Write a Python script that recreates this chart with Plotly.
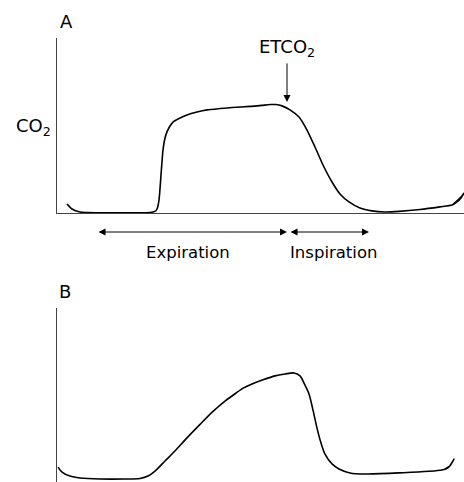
import plotly.graph_objects as go

# ---- data (time in s, CO2 in mmHg) ----
# Panel A: normal capnogram
t_a = [0.10, 0.15, 0.23, 0.43, 0.73, 0.93, 0.98, 1.00, 1.02, 1.04, 1.06, 1.08,
       1.10, 1.13, 1.16, 1.23, 1.30, 1.40, 1.50, 1.63, 1.75, 1.93, 2.05, 2.13,
       2.19, 2.25, 2.33, 2.42, 2.50, 2.58, 2.66, 2.75, 2.83, 2.92, 3.03, 3.15,
       3.28, 3.42, 3.63, 3.83, 3.95, 4.00, 4.04, 4.07, 4.04, 4.00, 3.96]
co2_a = [3.4, 1.5, 0.4, 0.1, 0.1, 0.2, 0.6, 1.5, 4.9, 14.3, 23.8, 28.3,
         30.6, 32.8, 34.3, 35.8, 37.0, 38.1, 38.9, 39.4, 39.8, 40.2, 40.6, 40.9,
         40.9, 40.4, 38.9, 36.2, 31.3, 24.9, 18.1, 11.7, 7.2, 4.2, 1.9, 0.8,
         0.4, 0.6, 1.3, 2.3, 3.0, 4.2, 5.7, 7.5, 6.0, 4.6, 3.3]

# Panel B: obstructive (shark-fin) capnogram
t_b = [0.01, 0.05, 0.13, 0.23, 0.43, 0.68, 0.83, 0.91, 0.98, 1.08, 1.16, 1.30,
       1.43, 1.56, 1.68, 1.75, 1.85, 1.95, 2.06, 2.18, 2.28, 2.37, 2.43, 2.47,
       2.52, 2.56, 2.60, 2.64, 2.68, 2.75, 2.82, 2.93, 3.08, 3.42, 3.85,
       3.91, 3.97, 3.93, 3.88]
co2_b = [4.5, 2.6, 1.1, 0.4, 0.0, 0.0, 0.2, 1.1, 3.0, 6.8, 9.8, 15.5,
         20.6, 25.5, 29.4, 31.3, 34.0, 35.8, 37.4, 38.9, 39.6, 40.0, 38.9, 36.2,
         32.1, 26.0, 19.2, 13.6, 9.4, 5.7, 3.8, 2.3, 1.9, 2.3, 3.4,
         4.2, 7.5, 5.0, 3.8]

etco2_time = 2.30
etco2_value = 41.9
expiration_span = [0.40, 2.30]
inspiration_span = [2.32, 3.12]

W, H = 464, 482
FONT = "DejaVu Sans"

def py(p):
    return 1 - p / H

fig = go.Figure()
fig.add_trace(go.Scatter(x=t_a, y=co2_a, mode="lines", xaxis="x", yaxis="y",
                         line=dict(color="black", width=1.6, shape="spline", smoothing=0.6),
                         hoverinfo="skip", showlegend=False))
fig.add_trace(go.Scatter(x=t_b, y=co2_b, mode="lines", xaxis="x2", yaxis="y2",
                         line=dict(color="black", width=1.6, shape="spline", smoothing=0.8),
                         hoverinfo="skip", showlegend=False))

xdom = [57 / W, 1.0]
axis_common = dict(showgrid=False, zeroline=False, showticklabels=False, ticks="",
                   linecolor="#444", linewidth=1, fixedrange=True)
fig.update_layout(
    width=W, height=H,
    margin=dict(l=0, r=0, t=0, b=0),
    paper_bgcolor="white", plot_bgcolor="white",
    font=dict(family=FONT, color="black", size=15),
    xaxis=dict(domain=xdom, range=[0, 4.07], showline=True, anchor="y", **axis_common),
    yaxis=dict(domain=[py(213), py(38)], range=[0, 66.0], showline=True, anchor="x", **axis_common),
    xaxis2=dict(domain=xdom, range=[0, 4.07], showline=False, anchor="y2", **axis_common),
    yaxis2=dict(domain=[0, py(308)], range=[-1.13, 64.5], showline=True, anchor="x2", **axis_common),
)

ann = []
# ETCO2 arrow pointing to end-tidal point
ann.append(dict(x=etco2_time, y=etco2_value, xref="x", yref="y",
                ax=0, ay=-40, axref="pixel", ayref="pixel",
                showarrow=True, arrowhead=2, arrowsize=1.4, arrowwidth=1, arrowcolor="black",
                text=""))
ann.append(dict(x=etco2_time, y=py(48), xref="x", yref="paper", text="ETCO<sub>2</sub>",
                showarrow=False, font=dict(size=18), xanchor="center", yanchor="middle"))
# Expiration / Inspiration double-headed arrows
ya = py(232)
for span in (expiration_span, inspiration_span):
    ann.append(dict(x=span[1], y=ya, xref="x", yref="paper",
                    ax=span[0], ay=0, axref="x", ayref="pixel",
                    showarrow=True, arrowhead=2, arrowside="end+start",
                    arrowsize=1.4, arrowwidth=1, arrowcolor="black", text="",
                    standoff=0, startstandoff=0))
ann.append(dict(x=1.31, y=py(252), xref="x", yref="paper", text="Expiration",
                showarrow=False, font=dict(size=16.5), xanchor="center", yanchor="middle"))
ann.append(dict(x=2.76, y=py(252), xref="x", yref="paper", text="Inspiration",
                showarrow=False, font=dict(size=16.5), xanchor="center", yanchor="middle"))
# Panel labels
ann.append(dict(x=66 / W, y=py(22), xref="paper", yref="paper", text="A",
                showarrow=False, font=dict(size=18), xanchor="center", yanchor="middle"))
ann.append(dict(x=65 / W, y=py(291), xref="paper", yref="paper", text="B",
                showarrow=False, font=dict(size=18), xanchor="center", yanchor="middle"))
ann.append(dict(x=53 / W, y=py(127), xref="paper", yref="paper", text="CO<sub>2</sub>",
                showarrow=False, font=dict(size=18), xanchor="right", yanchor="middle"))
fig.update_layout(annotations=ann)

fig.write_html("out.html", config={"displayModeBar": False},
               post_script="document.body.style.margin='0';document.body.style.overflow='hidden';")
